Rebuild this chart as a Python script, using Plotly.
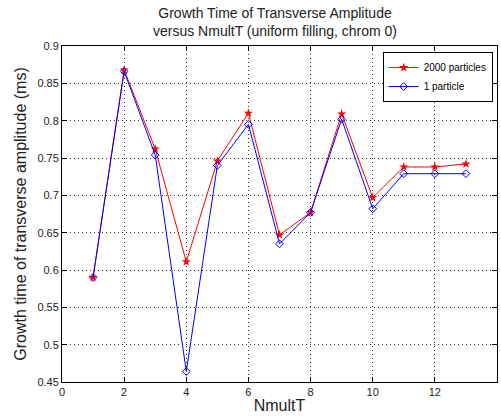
import plotly.graph_objects as go

x_vals = [1, 2, 3, 4, 5, 6, 7, 8, 9, 10, 11, 12, 13]
y_2000 = [0.590, 0.868, 0.762, 0.611, 0.746, 0.810, 0.647, 0.677, 0.809, 0.697, 0.738, 0.738, 0.742]
y_1 = [0.590, 0.866, 0.754, 0.464, 0.740, 0.795, 0.635, 0.677, 0.802, 0.682, 0.729, 0.729, 0.729]

x_ticks = [0, 2, 4, 6, 8, 10, 12, 14]
y_ticks = [0.45, 0.5, 0.55, 0.6, 0.65, 0.7, 0.75, 0.8, 0.85, 0.9]
y_ticklabels = ["0.45", "0.5", "0.55", "0.6", "0.65", "0.7", "0.75", "0.8", "0.85", "0.9"]

title_lines = ["Growth Time of Transverse Amplitude", "versus NmultT (uniform filling, chrom 0)"]

font_family = "Liberation Sans, Arial, sans-serif"

fig = go.Figure()
fig.add_trace(go.Scatter(
    x=x_vals, y=y_2000, mode="lines+markers", name="2000 particles",
    line=dict(color="#ff0000", width=1),
    marker=dict(symbol="star", size=7, color="#ff0000"),
))
fig.add_trace(go.Scatter(
    x=x_vals, y=y_1, mode="lines+markers", name="1 particle",
    line=dict(color="#0000ff", width=1),
    marker=dict(symbol="diamond-open", size=6, color="#0000ff", line=dict(width=1)),
))

axis_common = dict(
    showline=True, linecolor="black", linewidth=1, mirror="ticks",
    ticks="inside", ticklen=5, tickcolor="black", tickwidth=1,
    showgrid=True, gridcolor="#333333", gridwidth=1, griddash="1px,3px",
    zeroline=False,
    tickfont=dict(family=font_family, size=11, color="#222222"),
)

fig.update_layout(
    width=501, height=416,
    margin=dict(l=62, r=4, t=46, b=34),
    paper_bgcolor="white", plot_bgcolor="white",
    font=dict(family=font_family, color="black"),
    xaxis=dict(
        range=[0, 14], tickvals=x_ticks, ticktext=[str(t) for t in x_ticks],
        title=dict(text="NmultT", font=dict(family=font_family, size=16, color="#222222"), standoff=2),
        **axis_common,
    ),
    yaxis=dict(
        range=[0.45, 0.9], tickvals=y_ticks, ticktext=y_ticklabels,
        title=dict(text="Growth time of transverse amplitude (ms)", font=dict(family=font_family, size=16, color="#222222"), standoff=6),
        **axis_common,
    ),
    legend=dict(
        x=0.99, xanchor="right", y=0.982, yanchor="top",
        bgcolor="white", bordercolor="black", borderwidth=1,
        font=dict(family=font_family, size=10, color="black"),
        tracegroupgap=0, itemwidth=30,
    ),
    showlegend=True,
)

fig.add_annotation(
    text="<br>".join(title_lines), xref="paper", yref="paper", x=0.49, y=1,
    xanchor="center", yanchor="bottom", yshift=5, showarrow=False,
    font=dict(family=font_family, size=14, color="#222222"),
)

fig.write_html("out.html")
